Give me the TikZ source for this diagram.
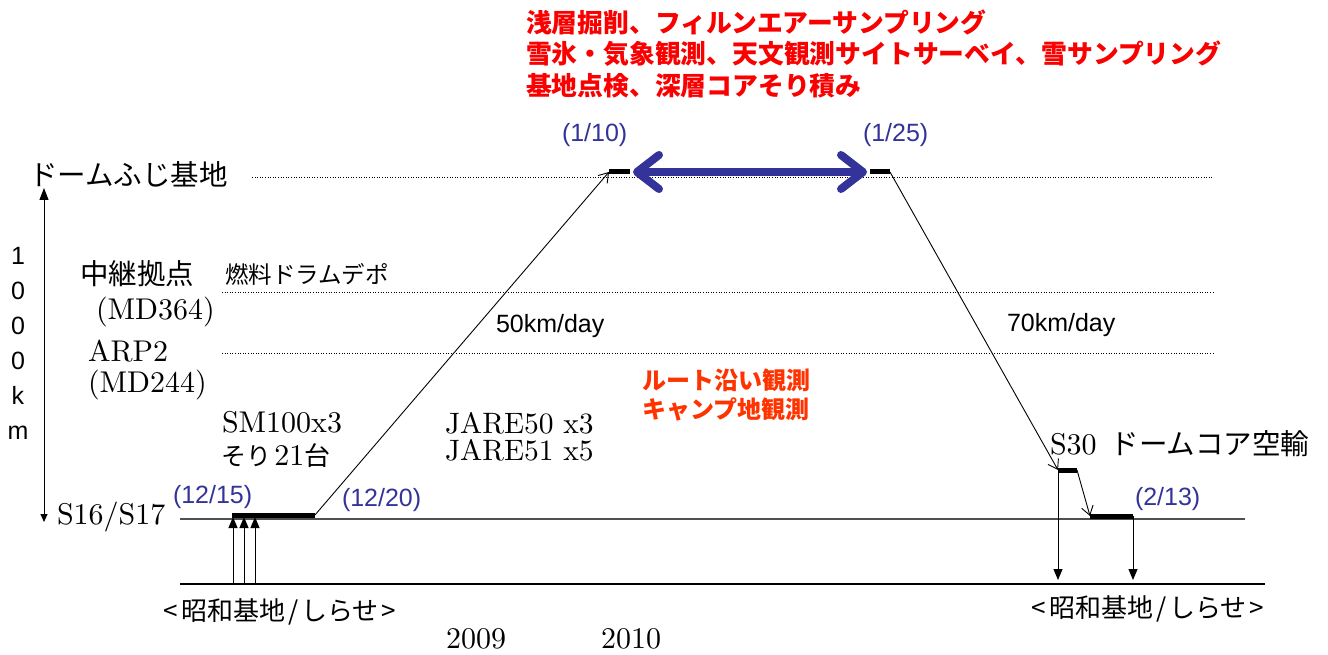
\documentclass[tikz,border=0pt]{standalone}
\usepackage{fontspec}
\newfontfamily\cjk{Noto Sans CJK JP}
\newfontfamily\arial{Liberation Sans}
\newfontfamily\cmr{lmroman10-regular.otf}
\usetikzlibrary{arrows.meta}
\definecolor{dblue}{RGB}{51,51,153}
\definecolor{tred}{RGB}{250,0,0}
\definecolor{ored}{RGB}{255,51,0}
\definecolor{lgray}{RGB}{80,80,80}
\begin{document}
\begin{tikzpicture}[x=1pt,y=-1pt,
  every node/.style={inner sep=0pt, outer sep=0pt},
  jp/.style={font=\cjk\fontsize{28.5}{32}\selectfont},
  jps/.style={font=\cjk\fontsize{23.5}{28}\selectfont},
  rm/.style={font=\cmr\fontsize{30}{34}\selectfont},
  sf/.style={font=\arial\fontsize{25}{30}\selectfont},
  date/.style={sf, text=dblue},
  redtxt/.style={font=\cjk\bfseries\fontsize{25.8}{31}\selectfont, text=tred},
  obs/.style={font=\cjk\bfseries\fontsize{24}{29}\selectfont, text=ored},
  bar/.style={line width=5pt},
  conn/.style={line width=0.9pt, -{Straight Barb[length=9pt,width=12pt]}},
  tri/.style={line width=1pt, -{Triangle[length=11pt,width=9pt]}},
  dotline/.style={line width=1pt, dash pattern=on 1pt off 1.6pt},
  gline/.style={line width=1.5pt, lgray},
  bluearrow/.style={line width=8pt, dblue, line cap=round,
    {Straight Barb[length=22pt,width=34pt,round]}-{Straight Barb[length=22pt,width=34pt,round]}},
  axis/.style={line width=1pt, {Triangle[length=8pt,width=7pt]}-{Triangle[length=12pt,width=9pt]}}
]
\useasboundingbox (0,0) rectangle (1328,655);

% ---- guide lines
\coordinate (sL) at (180,519); \coordinate (sR) at (1245,519);
\coordinate (bL) at (180,584); \coordinate (bR) at (1265,584);
\coordinate (dfL) at (252,178); \coordinate (dfR) at (1212,178);
\coordinate (mdL) at (222,292); \coordinate (mdR) at (1213,292);
\coordinate (arL) at (222,353); \coordinate (arR) at (1213,353);
\draw[gline] (sL) -- (sR);
\draw[line width=1.2pt] (bL) -- (bR);
\draw[dotline] (dfL) -- (dfR);
\draw[dotline] (mdL) -- (mdR);
\draw[dotline] (arL) -- (arR);

% ---- axis
\coordinate (axB) at (44,522); \coordinate (axT) at (44,188);
\draw[axis] (axB) -- (axT);

% ---- bars
\coordinate (b1s) at (232,515); \coordinate (b1e) at (315,515);
\coordinate (b2s) at (609,172); \coordinate (b2e) at (630,172);
\coordinate (b3s) at (870,172); \coordinate (b3e) at (890,172);
\coordinate (b4s) at (1058,470); \coordinate (b4e) at (1077,470);
\coordinate (b5s) at (1090,516); \coordinate (b5e) at (1133,516);
\draw[bar] (b1s) -- (b1e);
\draw[bar] (b2s) -- (b2e);
\draw[bar] (b3s) -- (b3e);
\draw[bar] (b4s) -- (b4e);
\draw[bar] (b5s) -- (b5e);

% ---- connectors
\draw[conn] (b1e) -- (b2s);
\draw[conn] (b3e) -- (b4s);
\draw[conn] (b4e) -- (b5s);
\coordinate (d1) at (1058,580); \coordinate (d2) at (1133,580);
\draw[tri] (b4s) -- (d1);
\draw[tri] (b5e) -- (d2);
\coordinate (u1s) at (233,584); \coordinate (u1e) at (233,517);
\coordinate (u2s) at (244,584); \coordinate (u2e) at (244,517);
\coordinate (u3s) at (255,584); \coordinate (u3e) at (255,517);
\draw[tri] (u1s) -- (u1e);
\draw[tri] (u2s) -- (u2e);
\draw[tri] (u3s) -- (u3e);
\coordinate (blL) at (633,172); \coordinate (blR) at (867,172);
\draw[bluearrow] (blL) -- (blR);

% ---- texts
\node[redtxt, anchor=west] (red1) at (526,22) {浅層掘削、フィルンエアーサンプリング};
\node[redtxt, anchor=west] (red2) at (526,54) {雪氷・気象観測、天文観測サイトサーベイ、雪サンプリング};
\node[redtxt, anchor=west] (red3) at (526,86) {基地点検、深層コアそり積み};

\node[jp, anchor=west] (dome) at (29,174) {ドームふじ基地};
\node[jp, anchor=west] (relay) at (80,274) {中継拠点};
\node[rm, anchor=west] (md364) at (96,312) {(MD364)};
\node[rm, anchor=west] (arp) at (88,351) {ARP2};
\node[rm, anchor=west] (md244) at (88,385) {(MD244)};
\node[jps, anchor=west] (depo) at (225,274) {燃料ドラムデポ};
\node[rm, anchor=west] (sm) at (222,422) {SM100x3};
\node[anchor=west] (sori) at (221,456) {{\cjk\fontsize{25}{30}\selectfont そり} {\cmr\fontsize{30}{34}\selectfont 21}{\cjk\fontsize{26}{30}\selectfont 台}};
\node[font=\cmr\fontsize{29.5}{27}\selectfont, align=left, anchor=north west] (jare) at (445,412) {JARE50 x3\\JARE51 x5};
\node[obs, anchor=west] (route1) at (642,380) {ルート沿い観測};
\node[obs, anchor=west] (route2) at (642,409) {キャンプ地観測};

\node[date, anchor=west] (d1215) at (173,497) {(12/15)};
\node[date, anchor=west] (d1220) at (342,500) {(12/20)};
\node[date, anchor=west] (d110) at (562,135) {(1/10)};
\node[date, anchor=west] (d125) at (863,135) {(1/25)};
\node[date, anchor=west] (d213) at (1135,499) {(2/13)};
\node[sf, anchor=west] (v50) at (496,326) {50km/day};
\node[sf, anchor=west] (v70) at (1007,325) {70km/day};

\node[font=\arial\fontsize{25}{35}\selectfont, align=center, anchor=north] (km) at (18,247) {1\\0\\0\\0\\k\\m};
\node[font=\cmr\fontsize{30}{36}\selectfont, anchor=west] (s16) at (57,517) {S16/S17};
\node[anchor=west] (s30) at (1050,444) {{\cmr\fontsize{30}{34}\selectfont S30}\hspace{14pt}{\cjk\fontsize{28.5}{32}\selectfont ドームコア空輸}};

\node[font=\cjk\fontsize{26}{30}\selectfont] (showaL) at (280,612) {<\hspace{3pt}昭和基地\hspace{3pt}/\hspace{3pt}しらせ\hspace{3pt}>};
\node[font=\cjk\fontsize{26}{30}\selectfont] (showaR) at (1148,609) {<\hspace{3pt}昭和基地\hspace{3pt}/\hspace{3pt}しらせ\hspace{3pt}>};
\node[rm] (y2009) at (476,639) {2009};
\node[rm] (y2010) at (631,639) {2010};
\end{tikzpicture}
\end{document}
